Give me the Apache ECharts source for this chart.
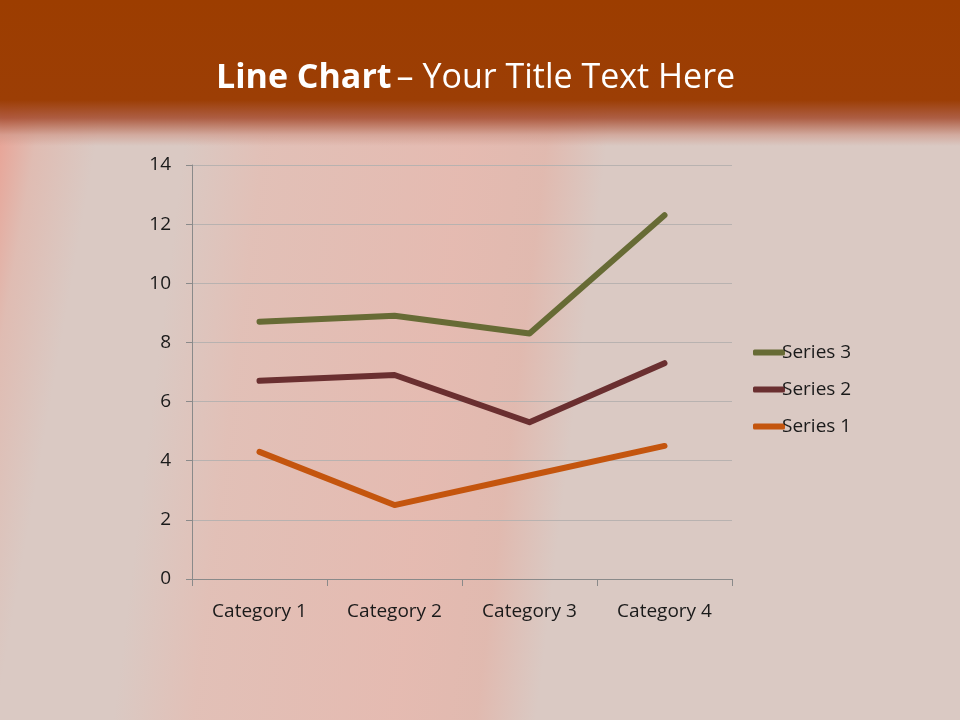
<!DOCTYPE html>
<html>
<head>
<meta charset="utf-8">
<script src="https://cdn.jsdelivr.net/npm/echarts@6/dist/echarts.min.js"></script>
<style>
html,body{margin:0;padding:0;width:960px;height:720px;overflow:hidden;}
#bg{position:absolute;left:0;top:0;width:960px;height:720px;
background:
 linear-gradient(180deg, #9c3d00 0px, #9c3e05 100px, rgba(165,75,45,0.85) 118px, rgba(205,150,135,0.6) 135px, rgba(220,190,180,0.0) 146px),
 linear-gradient(100deg, rgba(0,0,0,0) 0px, rgba(245,130,110,0.5) 25px, rgba(240,150,130,0.25) 60px, rgba(0,0,0,0) 120px),
 linear-gradient(97deg, rgba(0,0,0,0) 200px, rgba(240,175,160,0.35) 280px, rgba(245,165,150,0.4) 480px, rgba(240,150,130,0.3) 560px, rgba(0,0,0,0) 620px),
 #dac9c3;}
#chart{position:absolute;left:0;top:0;width:960px;height:720px;}
</style>
</head>
<body>
<div id="bg"></div>
<div id="chart"></div>
<script>
var categories = ['Category 1','Category 2','Category 3','Category 4'];
var series1 = [4.3, 2.5, 3.5, 4.5];
var series2 = [2.4, 4.4, 1.8, 2.8];
var series3 = [2, 2, 3, 5];
var yTicks = [0, 2, 4, 6, 8, 10, 12, 14];

var chart = echarts.init(document.getElementById('chart'));
var font = '"Open Sans", sans-serif';
function line(name, data, color) {
  return {
    name: name, type: 'line', stack: 'total', data: data,
    showSymbol: false, symbol: 'none',
    lineStyle: {width: 6, color: color, cap: 'round', join: 'round'},
    itemStyle: {color: color}
  };
}
chart.setOption({
  backgroundColor: 'transparent',
  animation: false,
  title: {
    text: '{b|Line Chart} {r|– Your Title Text Here}',
    left: 211, top: 56,
    textStyle: {
      rich: {
        b: {fontFamily: font, fontWeight: 'bold', fontSize: 34, color: '#ffffff'},
        r: {fontFamily: font, fontWeight: 'normal', fontSize: 34, color: '#ffffff'}
      }
    }
  },
  legend: {
    orient: 'vertical', left: 748, top: 338,
    data: ['Series 3','Series 2','Series 1'],
    itemWidth: 32, itemHeight: 6, itemGap: 18,
    icon: 'roundRect',
    textStyle: {fontFamily: font, fontSize: 19, color: '#1a1a1a', padding: [0,0,0,-8]}
  },
  grid: {left: 192, right: 228, top: 165, bottom: 141, containLabel: false},
  xAxis: {
    type: 'category', data: categories, boundaryGap: true,
    axisLine: {lineStyle: {color: '#8a8a8a', width: 1}},
    axisTick: {show: true, length: 7, lineStyle: {color: '#8a8a8a'}},
    axisLabel: {fontFamily: font, fontSize: 19, color: '#1a1a1a', margin: 23}
  },
  yAxis: {
    type: 'value', min: yTicks[0], max: yTicks[yTicks.length-1], interval: 2,
    axisLine: {show: true, lineStyle: {color: '#8a8a8a', width: 1}},
    axisTick: {show: true, length: 6, lineStyle: {color: '#8a8a8a'}},
    splitLine: {lineStyle: {color: '#b8b2b0', width: 1}},
    axisLabel: {fontFamily: font, fontSize: 19, color: '#1a1a1a', margin: 21}
  },
  series: [
    line('Series 1', series1, '#c4550e'),
    line('Series 2', series2, '#6a2f30'),
    line('Series 3', series3, '#676b35')
  ]
});
</script>
</body>
</html>
